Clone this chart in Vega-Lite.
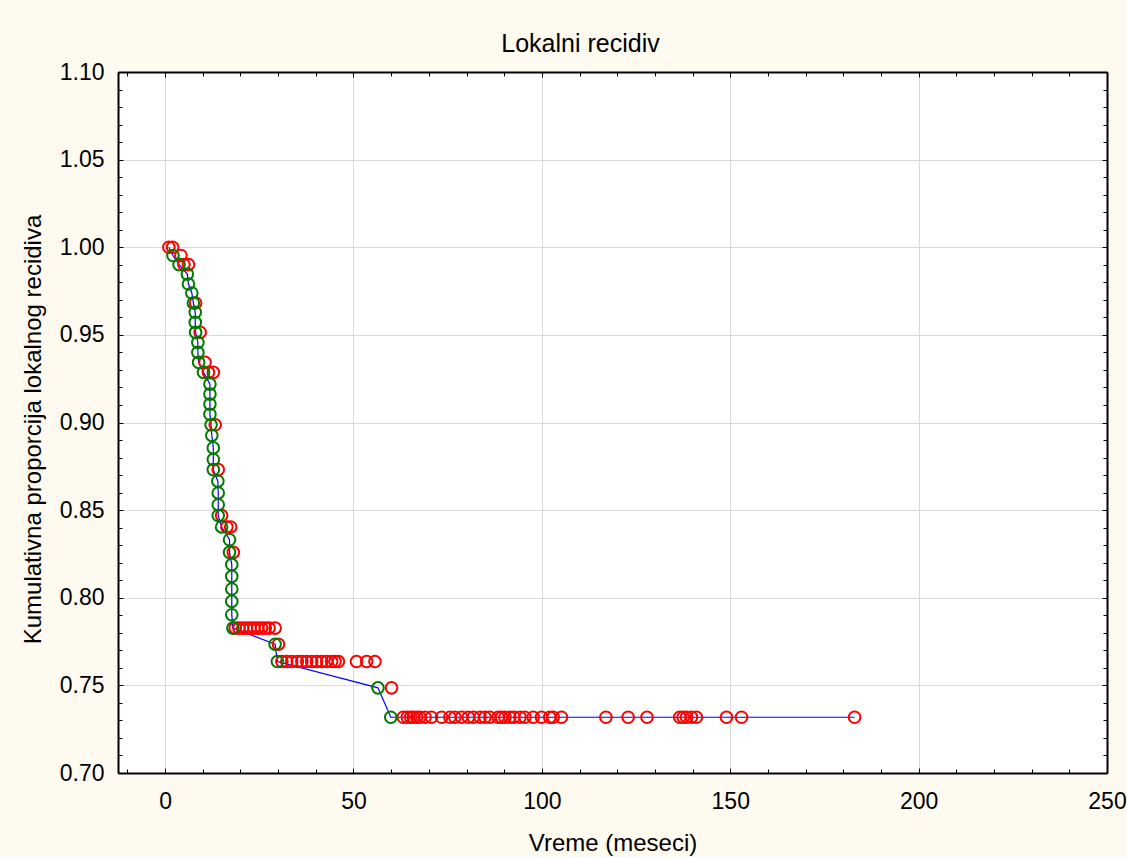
{
  "$schema": "https://vega.github.io/schema/vega-lite/v6.json",
  "autosize": {"type": "none"},
  "padding": {"left": 118, "top": 72, "right": 20, "bottom": 84},
  "width": 989,
  "height": 701,
  "background": "#fefaf0",
  "config": {
    "view": {"stroke": null, "fill": "white"},
    "font": "Liberation Sans",
    "axis": {"labelFlush": false, "labelOverlap": false, "labelColor": "black", "tickColor": "black", "domainColor": "black", "domainWidth": 2, "tickWidth": 1, "titleColor": "black", "titleFontWeight": "normal"}
  },
  "title": {"text": "Lokalni recidiv", "fontSize": 25, "fontWeight": "normal", "color": "black", "anchor": "middle", "offset": 4, "dx": -32},
  "datasets": {
    "curve": [
      {"i": 0, "t": 1, "s": 1.0},
      {"i": 1, "t": 2.1, "s": 0.9953},
      {"i": 2, "t": 3.7, "s": 0.9901},
      {"i": 3, "t": 5.9, "s": 0.9847},
      {"i": 4, "t": 6.2, "s": 0.979},
      {"i": 5, "t": 7.1, "s": 0.9739},
      {"i": 6, "t": 7.5, "s": 0.9682},
      {"i": 7, "t": 8.0, "s": 0.9629},
      {"i": 8, "t": 8.0, "s": 0.9571},
      {"i": 9, "t": 8.1, "s": 0.9514},
      {"i": 10, "t": 8.7, "s": 0.9457},
      {"i": 11, "t": 8.7, "s": 0.94},
      {"i": 12, "t": 8.9, "s": 0.9343},
      {"i": 13, "t": 10.2, "s": 0.9286},
      {"i": 14, "t": 11.9, "s": 0.9219},
      {"i": 15, "t": 11.9, "s": 0.9162},
      {"i": 16, "t": 11.9, "s": 0.9105},
      {"i": 17, "t": 11.9, "s": 0.9047},
      {"i": 18, "t": 12.2, "s": 0.8987},
      {"i": 19, "t": 12.4, "s": 0.8926},
      {"i": 20, "t": 12.8, "s": 0.8855},
      {"i": 21, "t": 12.8, "s": 0.8789},
      {"i": 22, "t": 12.8, "s": 0.8731},
      {"i": 23, "t": 14.0, "s": 0.8665},
      {"i": 24, "t": 14.1, "s": 0.8598},
      {"i": 25, "t": 14.1, "s": 0.8531},
      {"i": 26, "t": 14.1, "s": 0.8469},
      {"i": 27, "t": 15.0, "s": 0.8404},
      {"i": 28, "t": 17.1, "s": 0.8331},
      {"i": 29, "t": 17.1, "s": 0.8259},
      {"i": 30, "t": 17.7, "s": 0.8189},
      {"i": 31, "t": 17.7, "s": 0.8122},
      {"i": 32, "t": 17.7, "s": 0.805},
      {"i": 33, "t": 17.7, "s": 0.7979},
      {"i": 34, "t": 17.7, "s": 0.7903},
      {"i": 35, "t": 18.0, "s": 0.7827},
      {"i": 36, "t": 29.2, "s": 0.7735},
      {"i": 37, "t": 29.8, "s": 0.7636},
      {"i": 38, "t": 56.5, "s": 0.7486},
      {"i": 39, "t": 59.9, "s": 0.7318},
      {"i": 40, "t": 183, "s": 0.7318}
    ],
    "obs": [
      {"t": 1, "s": 1.0, "status": "censored"},
      {"t": 2, "s": 1.0, "status": "censored"},
      {"t": 4.2, "s": 0.9953, "status": "censored"},
      {"t": 5, "s": 0.9901, "status": "censored"},
      {"t": 6.2, "s": 0.9901, "status": "censored"},
      {"t": 8.1, "s": 0.9682, "status": "censored"},
      {"t": 9.3, "s": 0.9514, "status": "censored"},
      {"t": 10.6, "s": 0.9343, "status": "censored"},
      {"t": 11.5, "s": 0.9286, "status": "censored"},
      {"t": 12.8, "s": 0.9286, "status": "censored"},
      {"t": 13.3, "s": 0.8987, "status": "censored"},
      {"t": 14.1, "s": 0.8731, "status": "censored"},
      {"t": 15.0, "s": 0.8469, "status": "censored"},
      {"t": 16.4, "s": 0.8404, "status": "censored"},
      {"t": 17.4, "s": 0.8404, "status": "censored"},
      {"t": 18.1, "s": 0.8259, "status": "censored"},
      {"t": 18.6, "s": 0.7827, "status": "censored"},
      {"t": 19.6, "s": 0.7827, "status": "censored"},
      {"t": 20.6, "s": 0.7827, "status": "censored"},
      {"t": 21.6, "s": 0.7827, "status": "censored"},
      {"t": 22.6, "s": 0.7827, "status": "censored"},
      {"t": 23.6, "s": 0.7827, "status": "censored"},
      {"t": 24.6, "s": 0.7827, "status": "censored"},
      {"t": 25.6, "s": 0.7827, "status": "censored"},
      {"t": 26.6, "s": 0.7827, "status": "censored"},
      {"t": 27.6, "s": 0.7827, "status": "censored"},
      {"t": 29.2, "s": 0.7827, "status": "censored"},
      {"t": 30.1, "s": 0.7735, "status": "censored"},
      {"t": 31.0, "s": 0.7636, "status": "censored"},
      {"t": 32.3, "s": 0.7636, "status": "censored"},
      {"t": 33.6, "s": 0.7636, "status": "censored"},
      {"t": 35.1, "s": 0.7636, "status": "censored"},
      {"t": 36.3, "s": 0.7636, "status": "censored"},
      {"t": 37.6, "s": 0.7636, "status": "censored"},
      {"t": 38.9, "s": 0.7636, "status": "censored"},
      {"t": 40.2, "s": 0.7636, "status": "censored"},
      {"t": 41.6, "s": 0.7636, "status": "censored"},
      {"t": 42.9, "s": 0.7636, "status": "censored"},
      {"t": 44.2, "s": 0.7636, "status": "censored"},
      {"t": 45.1, "s": 0.7636, "status": "censored"},
      {"t": 46.0, "s": 0.7636, "status": "censored"},
      {"t": 50.8, "s": 0.7636, "status": "censored"},
      {"t": 53.5, "s": 0.7636, "status": "censored"},
      {"t": 55.7, "s": 0.7636, "status": "censored"},
      {"t": 60.1, "s": 0.7486, "status": "censored"},
      {"t": 63.2, "s": 0.7318, "status": "censored"},
      {"t": 64.3, "s": 0.7318, "status": "censored"},
      {"t": 65.2, "s": 0.7318, "status": "censored"},
      {"t": 65.9, "s": 0.7318, "status": "censored"},
      {"t": 66.8, "s": 0.7318, "status": "censored"},
      {"t": 67.6, "s": 0.7318, "status": "censored"},
      {"t": 69.0, "s": 0.7318, "status": "censored"},
      {"t": 70.7, "s": 0.7318, "status": "censored"},
      {"t": 73.4, "s": 0.7318, "status": "censored"},
      {"t": 75.6, "s": 0.7318, "status": "censored"},
      {"t": 76.9, "s": 0.7318, "status": "censored"},
      {"t": 78.7, "s": 0.7318, "status": "censored"},
      {"t": 80.5, "s": 0.7318, "status": "censored"},
      {"t": 81.8, "s": 0.7318, "status": "censored"},
      {"t": 83.6, "s": 0.7318, "status": "censored"},
      {"t": 84.9, "s": 0.7318, "status": "censored"},
      {"t": 86.2, "s": 0.7318, "status": "censored"},
      {"t": 88.4, "s": 0.7318, "status": "censored"},
      {"t": 89.3, "s": 0.7318, "status": "censored"},
      {"t": 90.2, "s": 0.7318, "status": "censored"},
      {"t": 91.5, "s": 0.7318, "status": "censored"},
      {"t": 92.6, "s": 0.7318, "status": "censored"},
      {"t": 94.2, "s": 0.7318, "status": "censored"},
      {"t": 95.5, "s": 0.7318, "status": "censored"},
      {"t": 97.7, "s": 0.7318, "status": "censored"},
      {"t": 99.9, "s": 0.7318, "status": "censored"},
      {"t": 102.1, "s": 0.7318, "status": "censored"},
      {"t": 103.0, "s": 0.7318, "status": "censored"},
      {"t": 105.2, "s": 0.7318, "status": "censored"},
      {"t": 117.0, "s": 0.7318, "status": "censored"},
      {"t": 122.9, "s": 0.7318, "status": "censored"},
      {"t": 127.9, "s": 0.7318, "status": "censored"},
      {"t": 136.6, "s": 0.7318, "status": "censored"},
      {"t": 137.5, "s": 0.7318, "status": "censored"},
      {"t": 138.4, "s": 0.7318, "status": "censored"},
      {"t": 139.7, "s": 0.7318, "status": "censored"},
      {"t": 141.0, "s": 0.7318, "status": "censored"},
      {"t": 149.0, "s": 0.7318, "status": "censored"},
      {"t": 153.0, "s": 0.7318, "status": "censored"},
      {"t": 183.0, "s": 0.7318, "status": "censored"},
      {"t": 2.1, "s": 0.9953, "status": "complete"},
      {"t": 3.7, "s": 0.9901, "status": "complete"},
      {"t": 5.9, "s": 0.9847, "status": "complete"},
      {"t": 6.2, "s": 0.979, "status": "complete"},
      {"t": 7.1, "s": 0.9739, "status": "complete"},
      {"t": 7.5, "s": 0.9682, "status": "complete"},
      {"t": 8.0, "s": 0.9629, "status": "complete"},
      {"t": 8.0, "s": 0.9571, "status": "complete"},
      {"t": 8.1, "s": 0.9514, "status": "complete"},
      {"t": 8.7, "s": 0.9457, "status": "complete"},
      {"t": 8.7, "s": 0.94, "status": "complete"},
      {"t": 8.9, "s": 0.9343, "status": "complete"},
      {"t": 10.2, "s": 0.9286, "status": "complete"},
      {"t": 11.9, "s": 0.9219, "status": "complete"},
      {"t": 11.9, "s": 0.9162, "status": "complete"},
      {"t": 11.9, "s": 0.9105, "status": "complete"},
      {"t": 11.9, "s": 0.9047, "status": "complete"},
      {"t": 12.2, "s": 0.8987, "status": "complete"},
      {"t": 12.4, "s": 0.8926, "status": "complete"},
      {"t": 12.8, "s": 0.8855, "status": "complete"},
      {"t": 12.8, "s": 0.8789, "status": "complete"},
      {"t": 12.8, "s": 0.8731, "status": "complete"},
      {"t": 14.0, "s": 0.8665, "status": "complete"},
      {"t": 14.1, "s": 0.8598, "status": "complete"},
      {"t": 14.1, "s": 0.8531, "status": "complete"},
      {"t": 14.1, "s": 0.8469, "status": "complete"},
      {"t": 15.0, "s": 0.8404, "status": "complete"},
      {"t": 17.1, "s": 0.8331, "status": "complete"},
      {"t": 17.1, "s": 0.8259, "status": "complete"},
      {"t": 17.7, "s": 0.8189, "status": "complete"},
      {"t": 17.7, "s": 0.8122, "status": "complete"},
      {"t": 17.7, "s": 0.805, "status": "complete"},
      {"t": 17.7, "s": 0.7979, "status": "complete"},
      {"t": 17.7, "s": 0.7903, "status": "complete"},
      {"t": 18.0, "s": 0.7827, "status": "complete"},
      {"t": 29.2, "s": 0.7735, "status": "complete"},
      {"t": 29.8, "s": 0.7636, "status": "complete"},
      {"t": 56.5, "s": 0.7486, "status": "complete"},
      {"t": 59.9, "s": 0.7318, "status": "complete"}
    ]
  },
  "layer": [
    {
      "data": {"name": "curve"},
      "mark": {"type": "line", "color": "#0000ff", "strokeWidth": 1.2},
      "encoding": {
        "x": {
          "field": "t", "type": "quantitative",
          "scale": {"domain": [-12.5, 250], "nice": false, "zero": false},
          "axis": {
            "orient": "bottom",
            "values": [-10, 0, 10, 20, 30, 40, 50, 60, 70, 80, 90, 100, 110, 120, 130, 140, 150, 160, 170, 180, 190, 200, 210, 220, 230, 240, 250],
            "labelExpr": "datum.value % 50 === 0 ? datum.label : ''",
            "grid": true,
            "gridColor": "#d9d9d9",
            "gridWidth": 1,
            "gridOpacity": {"condition": {"test": "datum.value % 50 === 0", "value": 1}, "value": 0},
            "tickSize": {"condition": {"test": "datum.value % 50 === 0", "value": -5}, "value": -4},
            "labelPadding": 22,
            "labelFontSize": 23,
            "title": "Vreme (meseci)",
            "titleFontSize": 24,
            "titleY": 70,
            "titleBaseline": "middle"
          }
        },
        "y": {
          "field": "s", "type": "quantitative",
          "scale": {"domain": [0.7, 1.1], "nice": false, "zero": false},
          "axis": {
            "orient": "left",
            "values": [0.7, 0.71, 0.72, 0.73, 0.74, 0.75, 0.76, 0.77, 0.78, 0.79, 0.8, 0.81, 0.82, 0.83, 0.84, 0.85, 0.86, 0.87, 0.88, 0.89, 0.9, 0.91, 0.92, 0.93, 0.94, 0.95, 0.96, 0.97, 0.98, 0.99, 1.0, 1.01, 1.02, 1.03, 1.04, 1.05, 1.06, 1.07, 1.08, 1.09, 1.1],
            "format": ".2f",
            "labelExpr": "abs(datum.value*20 - round(datum.value*20)) < 1e-6 ? datum.label : ''",
            "grid": true,
            "gridColor": "#d9d9d9",
            "gridWidth": 1,
            "gridOpacity": {"condition": {"test": "abs(datum.value*20 - round(datum.value*20)) < 1e-6", "value": 1}, "value": 0},
            "tickSize": {"condition": {"test": "abs(datum.value*20 - round(datum.value*20)) < 1e-6", "value": -5}, "value": -4},
            "labelPadding": 19,
            "labelFontSize": 23,
            "title": "Kumulativna proporcija lokalnog recidiva",
            "titleFontSize": 24,
            "titleX": -85,
            "titleY": 357,
            "titleBaseline": "middle"
          }
        },
        "order": {"field": "i", "type": "quantitative"}
      }
    },
    {
      "data": {"name": "obs"},
      "transform": [{"filter": "datum.status === 'censored'"}],
      "mark": {"type": "point", "shape": "circle", "filled": false, "color": "#ff0000", "strokeWidth": 2, "size": 135, "opacity": 1},
      "encoding": {
        "x": {
          "field": "t", "type": "quantitative",
          "scale": {"domain": [-12.5, 250], "nice": false, "zero": false},
          "axis": {
            "orient": "top",
            "values": [-10, 0, 10, 20, 30, 40, 50, 60, 70, 80, 90, 100, 110, 120, 130, 140, 150, 160, 170, 180, 190, 200, 210, 220, 230, 240, 250],
            "labels": false,
            "grid": false,
            "tickSize": {"condition": {"test": "datum.value % 50 === 0", "value": -5}, "value": -4},
            "title": null
          }
        },
        "y": {
          "field": "s", "type": "quantitative",
          "scale": {"domain": [0.7, 1.1], "nice": false, "zero": false},
          "axis": {
            "orient": "right",
            "values": [0.7, 0.71, 0.72, 0.73, 0.74, 0.75, 0.76, 0.77, 0.78, 0.79, 0.8, 0.81, 0.82, 0.83, 0.84, 0.85, 0.86, 0.87, 0.88, 0.89, 0.9, 0.91, 0.92, 0.93, 0.94, 0.95, 0.96, 0.97, 0.98, 0.99, 1.0, 1.01, 1.02, 1.03, 1.04, 1.05, 1.06, 1.07, 1.08, 1.09, 1.1],
            "labels": false,
            "grid": false,
            "tickSize": {"condition": {"test": "abs(datum.value*20 - round(datum.value*20)) < 1e-6", "value": -5}, "value": -4},
            "title": null
          }
        }
      }
    },
    {
      "data": {"name": "obs"},
      "transform": [{"filter": "datum.status === 'complete'"}],
      "mark": {"type": "point", "shape": "circle", "filled": false, "color": "#007a00", "strokeWidth": 2, "size": 135, "opacity": 1},
      "encoding": {
        "x": {"field": "t", "type": "quantitative", "scale": {"domain": [-12.5, 250], "nice": false, "zero": false}, "axis": null},
        "y": {"field": "s", "type": "quantitative", "scale": {"domain": [0.7, 1.1], "nice": false, "zero": false}, "axis": null}
      }
    }
  ],
  "resolve": {"axis": {"x": "independent", "y": "independent"}}
}
